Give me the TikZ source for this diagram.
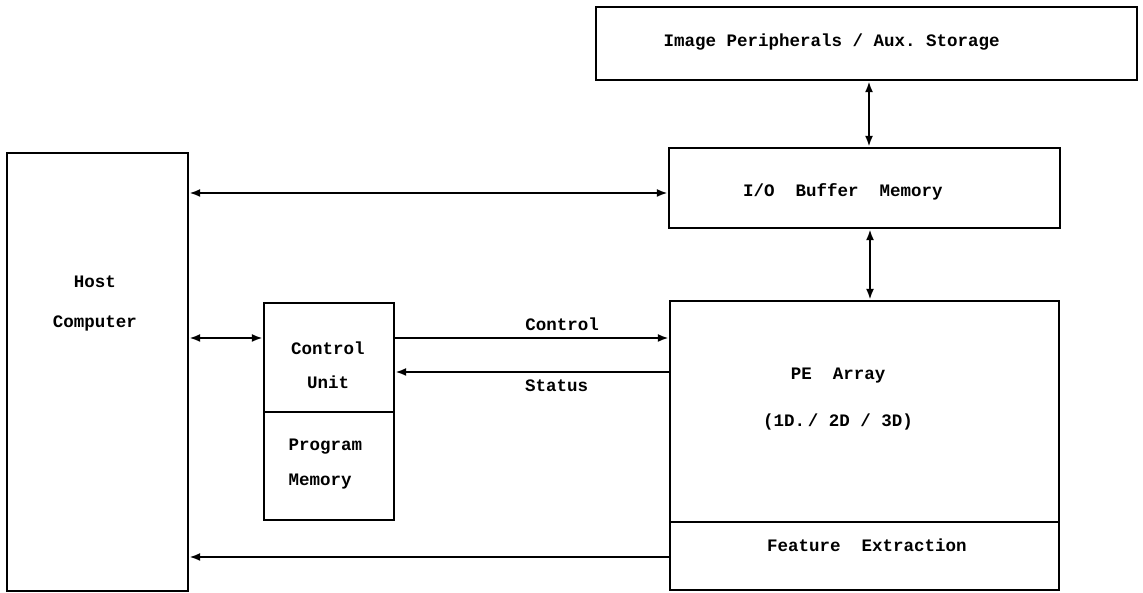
\documentclass[tikz,border=0pt]{standalone}
\usepackage{fontspec}
\setmonofont{Liberation Mono}
\usepackage{tikz}
\usetikzlibrary{arrows.meta}

\begin{document}
\begin{tikzpicture}[x=1pt, y=1pt,
    every node/.style={font=\fontsize{17.5}{21}\selectfont\ttfamily\bfseries},
    block/.style={draw, line width=2.3pt, inner sep=0pt},
    conn/.style={line width=2.2pt, arrows={-Latex[length=11pt,width=8pt]}},
    biconn/.style={line width=2.2pt, arrows={Latex[length=11pt,width=8pt]-Latex[length=11pt,width=8pt]}}]
    \useasboundingbox (0,0) rectangle (1143,593);

    \node[block, minimum width=541, minimum height=73] (periph) at (866.5,549.5) {};
    \node[anchor=west] (periphtxt) at (660,551) {Image Peripherals / Aux. Storage};

    \node[block, minimum width=391, minimum height=80] (iobuf) at (864.5,405) {};
    \node (iobuftxt) at (843,401) {I/O\ \ Buffer\ \ Memory};

    \node[block, minimum width=181, minimum height=438] (host) at (97.5,221) {};
    \node[align=center, font=\fontsize{17.5}{40}\selectfont\ttfamily\bfseries] (hosttxt) at (95,290) {Host\\Computer};

    \node[block, minimum width=130, minimum height=109] (ctrl) at (329,235.5) {};
    \node[align=center, font=\fontsize{17.5}{34}\selectfont\ttfamily\bfseries] (ctrltxt) at (328,228) {Control\\Unit};
    \node[block, minimum width=130, minimum height=108] (progmem) at (329,127) {};
    \node[anchor=west, align=left, font=\fontsize{17.5}{35}\selectfont\ttfamily\bfseries] (progmemtxt) at (285,128.5) {Program\\Memory};

    \node[block, minimum width=389, minimum height=221] (pe) at (864.5,181.5) {};
    \node[align=center, font=\fontsize{17.5}{47}\selectfont\ttfamily\bfseries] (petxt) at (838,193.5) {PE\ \ Array\\(1D.\,/ 2D / 3D)};
    \node[block, minimum width=389, minimum height=68] (feat) at (864.5,37) {};
    \node (feattxt) at (867,48) {Feature\ \ Extraction};

    \draw[biconn] (periph.south -| 869,0) -- (iobuf.north -| 869,0);
    \draw[biconn] (iobuf.south -| 870,0) -- (pe.north -| 870,0);
    \draw[biconn] (host.east |- 0,400) -- (iobuf.west |- 0,400);
    \draw[biconn] (host.east |- 0,255) -- (ctrl.west |- 0,255);
    \draw[conn] (ctrl.east |- 0,255) -- node[pos=0.61, above=3pt] (ctrllbl) {Control} (pe.west |- 0,255);
    \draw[conn] (pe.west |- 0,221) -- node[pos=0.41, below=3pt] (statlbl) {Status} (ctrl.east |- 0,221);
    \draw[conn] (feat.west |- 0,36) -- (host.east |- 0,36);
\end{tikzpicture}
\end{document}
